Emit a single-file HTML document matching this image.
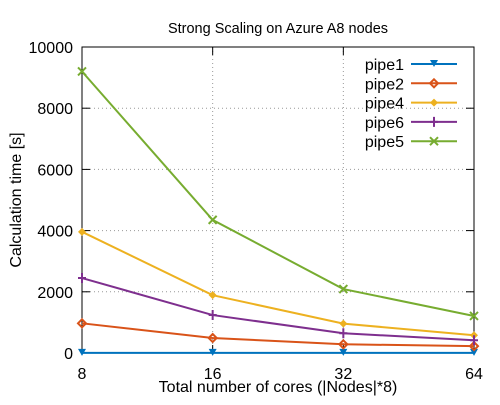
<!DOCTYPE html>
<html><head><meta charset="utf-8"><style>
body{margin:0;background:#fff}
svg{font-family:"Liberation Sans",sans-serif;font-size:16px}
</style></head><body>
<svg id="c" width="500" height="400">
<text x="278" y="33" text-anchor="middle" font-size="14.5">Strong Scaling on Azure A8 nodes</text>
<text transform="translate(21,200) rotate(-90)" text-anchor="middle">Calculation time [s]</text>
<text x="278" y="392" text-anchor="middle">Total number of cores (|Nodes|*8)</text>
<g id="grid"></g><g id="axes"></g><g id="series"></g><g id="legend"></g>
</svg>
<script>
const cores=[8,16,32,64];
const yTicks=[0,2000,4000,6000,8000,10000];
const names=["pipe1","pipe2","pipe4","pipe6","pipe5"];
const colors=["#0072bd","#d95319","#edb120","#7e2f8e","#77ac30"];
const markers=["tri","diamond","diamondf","plus","x"];
const pipe1=[5,5,5,5];
const pipe2=[970,490,285,225];
const pipe4=[3960,1890,960,580];
const pipe6=[2450,1240,645,415];
const pipe5=[9200,4350,2090,1210];
const series=[pipe1,pipe2,pipe4,pipe6,pipe5];
const L=82,R=474,T=47,B=353;
const X=v=>L+(Math.log2(v)-3)/3*(R-L);
const Y=v=>B-v/10000*(B-T);
const NS="http://www.w3.org/2000/svg";
function mk(t,a,p){const e=document.createElementNS(NS,t);for(const k in a)e.setAttribute(k,a[k]);p.appendChild(e);return e;}
const g=document.getElementById('grid'),ax=document.getElementById('axes'),sg=document.getElementById('series'),lg=document.getElementById('legend');
yTicks.forEach(v=>{const y=Y(v);
 if(v>0&&v<10000){const l=mk('line',{x1:L,x2:R,y1:y,y2:y,stroke:'#999','stroke-dasharray':'1,3'},g);}
 mk('line',{x1:L,x2:L+8,y1:y,y2:y,stroke:'#000'},ax);mk('line',{x1:R-8,x2:R,y1:y,y2:y,stroke:'#000'},ax);
 const t=mk('text',{x:L-9,y:y+6,'text-anchor':'end'},ax);t.textContent=v;});
cores.forEach(v=>{const x=X(v);
 if(v>8&&v<64){const l=mk('line',{x1:x,x2:x,y1:T,y2:B,stroke:'#999','stroke-dasharray':'1,3'},g);}
 mk('line',{x1:x,x2:x,y1:B,y2:B-8,stroke:'#000'},ax);mk('line',{x1:x,x2:x,y1:T,y2:T+8,stroke:'#000'},ax);
 const t=mk('text',{x:x,y:B+26,'text-anchor':'middle'},ax);t.textContent=v;});
const fr=mk('rect',{x:L,y:T,width:R-L,height:B-T,fill:'none',stroke:'#000'},ax);

function marker(type,x,y,c,p){
 if(type==='tri')mk('path',{d:`M${x-4},${y-4}L${x+4},${y-4}L${x},${y+3}Z`,fill:c},p);
 else if(type==='diamond')mk('path',{d:`M${x},${y-4}L${x+4},${y}L${x},${y+4}L${x-4},${y}Z`,fill:'none',stroke:c,'stroke-width':2},p);
 else if(type==='diamondf')mk('path',{d:`M${x},${y-4}L${x+4},${y}L${x},${y+4}L${x-4},${y}Z`,fill:c},p);
 else if(type==='plus')mk('path',{d:`M${x-4},${y}H${x+4}M${x},${y-5}V${y+5}`,stroke:c,'stroke-width':2},p);
 else mk('path',{d:`M${x-4},${y-4}L${x+4},${y+4}M${x-4},${y+4}L${x+4},${y-4}`,stroke:c,'stroke-width':2},p);}
series.forEach((s,i)=>{
 const grp=mk('g',{},sg);
 mk('polyline',{points:s.map((v,j)=>X(cores[j])+','+Y(v)).join(' '),fill:'none',stroke:colors[i],'stroke-width':2},grp);
 s.forEach((v,j)=>marker(markers[i],X(cores[j]),Y(v),colors[i],grp));
 const ly=64+i*19.3;
 const le=mk('g',{},lg);
 const t=mk('text',{x:404,y:ly+6,'text-anchor':'end'},le);t.textContent=names[i];
 mk('line',{x1:411,x2:457,y1:ly,y2:ly,stroke:colors[i],'stroke-width':2},le);
 marker(markers[i],434,ly,colors[i],le);});
</script>
</body></html>
